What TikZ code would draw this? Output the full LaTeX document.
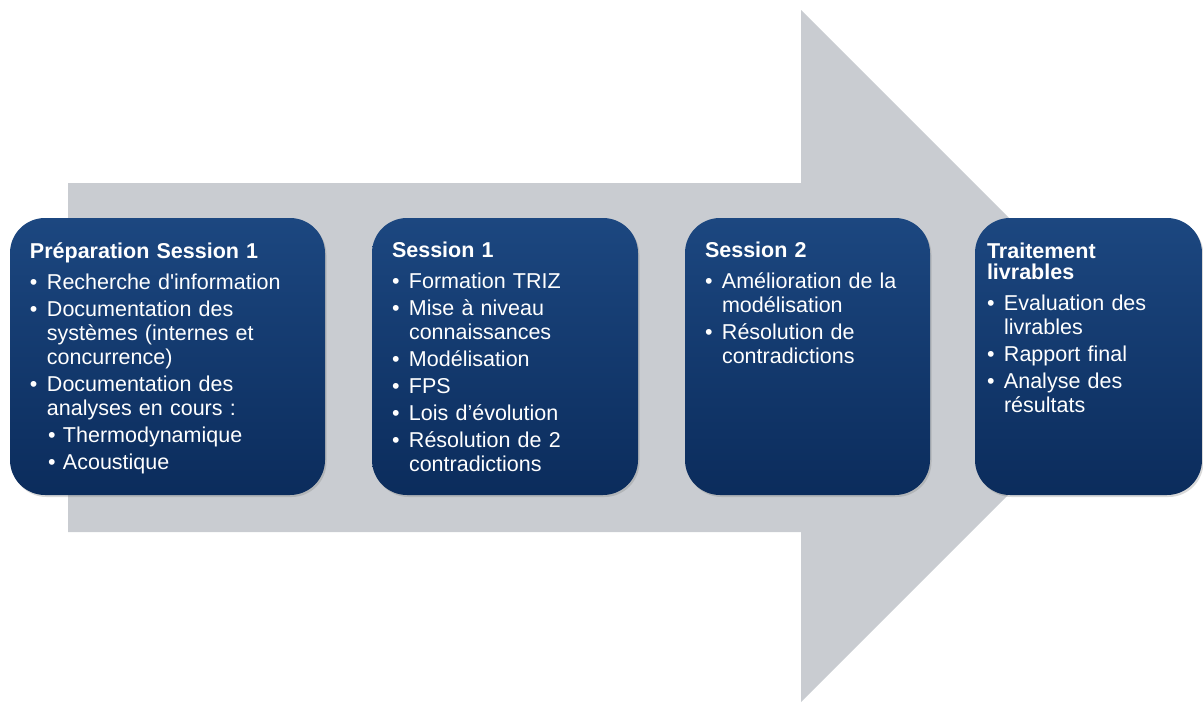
\documentclass[tikz,border=0pt]{standalone}
\usepackage{fontspec}
\setmainfont{Liberation Sans}
\usetikzlibrary{shadows}
\definecolor{arrowgrey}{RGB}{201,204,209}
\definecolor{navytop}{RGB}{28,71,128}
\definecolor{navybot}{RGB}{11,44,92}
\newcommand{\bul}{\makebox[17pt][l]{•}}
\newcommand{\sbul}{\hspace*{18pt}\makebox[15pt][l]{•}}
\newcommand{\ind}{\hspace*{17pt}}
\tikzset{
  stage/.style={rectangle, rounded corners=35pt, minimum height=277pt,
    top color=navytop, bottom color=navybot, draw=none,
    drop shadow={shadow xshift=1.5pt, shadow yshift=-2pt, opacity=.3}},
  stagetext/.style={anchor=base west, inner sep=0pt, text=white, text width=#1,
    align=left, font=\fontsize{21.5}{24}\selectfont}
}
\begin{document}
\begin{tikzpicture}[x=1pt, y=-1pt]
\useasboundingbox (0,0) rectangle (1203,704);
% big arrow behind
\fill[arrowgrey](68,183)--(801,183)--(801,10)--(1147,356)--(801,702)--(801,532)--(68,532)--cycle;
% stages
\node[stage, minimum width=315pt] (prep) at (167.5,356.5) {};
\node[stage, minimum width=266pt] (sess1) at (505,356.5) {};
\node[stage, minimum width=245pt] (sess2) at (807.5,356.5) {};
\node[stage, minimum width=227pt] (trait) at (1088.5,356.5) {};
% texts
\node[stagetext=300pt] (preptxt) at ([shift={(20,41)}]prep.north west)
  {\textbf{Préparation Session 1}\\[7pt]
   \bul Recherche d\textquotesingle information\\[3pt]
   \bul Documentation des\\
   \ind systèmes (internes et\\
   \ind concurrence)\\[3pt]
   \bul Documentation des\\
   \ind analyses en cours :\\[3pt]
   \sbul Thermodynamique\\[3pt]
   \sbul Acoustique};
\node[stagetext=250pt] (sess1txt) at ([shift={(20,39.5)}]sess1.north west)
  {\textbf{Session 1}\\[7pt]
   \bul Formation TRIZ\\[3pt]
   \bul Mise à niveau\\
   \ind connaissances\\[3pt]
   \bul Modélisation\\[3pt]
   \bul FPS\\[3pt]
   \bul Lois d’évolution\\[3pt]
   \bul Résolution de 2\\
   \ind contradictions};
\node[stagetext=230pt] (sess2txt) at ([shift={(20,39.5)}]sess2.north west)
  {\textbf{Session 2}\\[7pt]
   \bul Amélioration de la\\
   \ind modélisation\\[3pt]
   \bul Résolution de\\
   \ind contradictions};
\node[stagetext=215pt] (traittxt) at ([shift={(12,41)}]trait.north west)
  {\textbf{Traitement}\\[-3pt]
   \textbf{livrables}\\[7pt]
   \bul Evaluation des\\
   \ind livrables\\[3pt]
   \bul Rapport final\\[3pt]
   \bul Analyse des\\
   \ind résultats};
\end{tikzpicture}
\end{document}
